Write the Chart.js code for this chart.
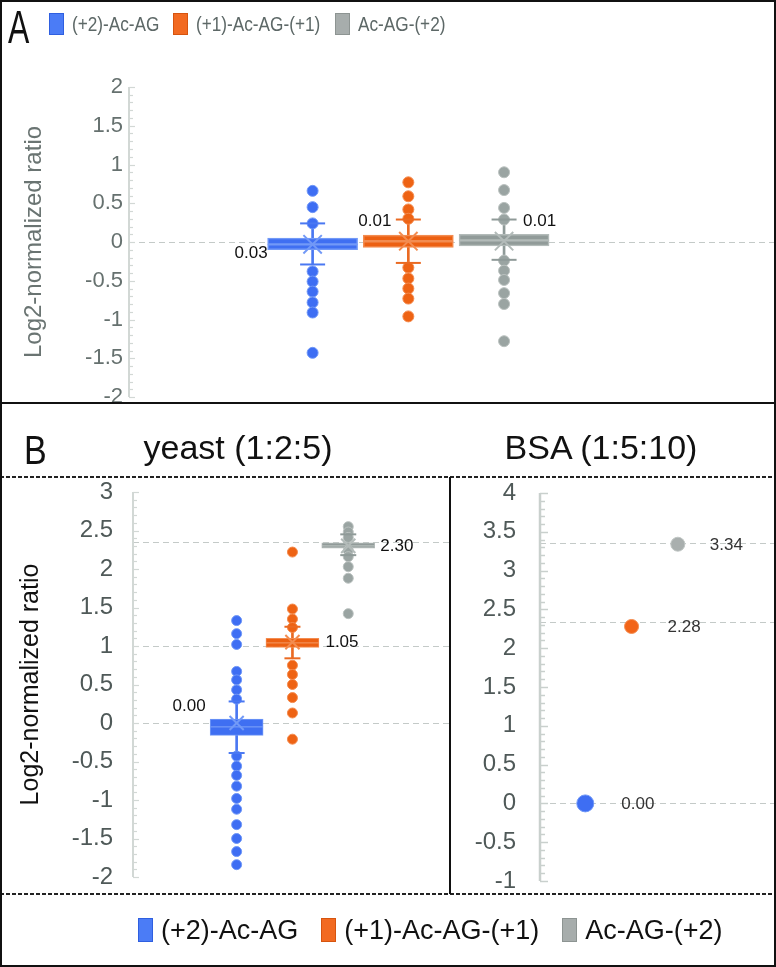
<!DOCTYPE html>
<html><head><meta charset="utf-8">
<script src="https://cdn.jsdelivr.net/npm/chart.js@4.4.1/dist/chart.umd.min.js"></script>
<style>
html,body{margin:0;padding:0;background:#fff;}
#fig{position:relative;width:776px;height:967px;background:#fff;overflow:hidden;font-family:"Liberation Sans",Arial,sans-serif;}
#fig canvas{position:absolute;}
.abs{position:absolute;white-space:nowrap;}
.leg{position:absolute;display:flex;align-items:center;white-space:nowrap;transform-origin:left center;}
.leg .sw{display:inline-block;box-sizing:border-box;border:1.5px solid;}
.hline{position:absolute;left:0;width:776px;}
.dash{height:2px;background:repeating-linear-gradient(90deg,#222 0 4px,transparent 4px 6px);}
</style></head><body>
<div id="fig">
  <canvas id="cA" width="776" height="440" style="left:0;top:0"></canvas>
  <canvas id="cY" width="451" height="470" style="left:0;top:450px"></canvas>
  <canvas id="cB" width="325" height="470" style="left:451px;top:450px"></canvas>

  <div class="abs" style="left:8px;top:4px;font-size:47px;line-height:46px;color:#111;transform:scaleX(0.68);transform-origin:left top;">A</div>
  <div class="abs" style="left:24px;top:431px;font-size:40px;line-height:39px;color:#111;transform:scaleX(0.85);transform-origin:left top;">B</div>
  <div class="abs" style="left:88px;width:300px;text-align:center;top:427px;font-size:34px;line-height:40px;color:#111;">yeast (1:2:5)</div>
  <div class="abs" style="left:451px;width:300px;text-align:center;top:427px;font-size:34px;line-height:40px;color:#111;">BSA (1:5:10)</div>

  <div id="legA" class="leg" style="left:49px;top:13px;height:22px;font-size:20px;color:#5d6867;"></div>
  <div id="legB" class="leg" style="left:138px;top:918px;height:24px;font-size:27px;color:#111;"></div>

  <div class="hline" style="top:402px;height:2px;background:#111;"></div>
  <div class="hline dash" style="top:476px;"></div>
  <div class="hline dash" style="top:893px;"></div>
  <div class="abs" style="left:449px;top:477px;width:2px;height:417px;background:#111;"></div>
  <div class="abs" style="left:0;top:0;width:776px;height:967px;box-sizing:border-box;border:2px solid #111;"></div>
</div>
<script>
// ---------------- DATA ----------------
const seriesNames = ['(+2)-Ac-AG', '(+1)-Ac-AG-(+1)', 'Ac-AG-(+2)'];
const seriesX = [1, 2, 3];

// Panel A (box plots)
const aPointsBlue   = [0.66, 0.45, 0.24, -0.38, -0.51, -0.64, -0.78, -0.91, -1.43];
const aPointsOrange = [0.77, 0.59, 0.42, 0.30, -0.33, -0.47, -0.60, -0.73, -0.96];
const aPointsGray   = [0.90, 0.67, 0.44, 0.29, -0.24, -0.37, -0.49, -0.66, -0.80, -1.28];
const aQ1          = [-0.10, -0.07, -0.05];
const aMedian      = [-0.03, 0.01, 0.02];
const aQ3          = [0.05, 0.09, 0.10];
const aWhiskerLow  = [-0.29, -0.27, -0.23];
const aWhiskerHigh = [0.24, 0.29, 0.29];
const aMean        = [-0.03, 0.01, 0.01];
const aMeanLabels  = ['0.03', '0.01', '0.01'];
const aTicks       = [-2, -1.5, -1, -0.5, 0, 0.5, 1, 1.5, 2];
const aRefLines    = [0];

// Panel B – yeast (1:2:5)
const yPointsBlue   = [1.33, 1.16, 1.02, 0.67, 0.56, 0.43, 0.31, -0.43, -0.56, -0.68, -0.82, -0.98, -1.12, -1.32, -1.50, -1.67, -1.84];
const yPointsOrange = [2.22, 1.48, 1.35, 1.24, 0.75, 0.63, 0.50, 0.33, 0.13, -0.21];
const yPointsGray   = [2.55, 2.48, 2.41, 2.24, 2.16, 2.03, 1.88, 1.42];
const yQ1          = [-0.16, 0.98, 2.27];
const yMedian      = [-0.05, 1.04, 2.30];
const yQ3          = [0.05, 1.10, 2.34];
const yWhiskerLow  = [-0.39, 0.84, 2.18];
const yWhiskerHigh = [0.28, 1.25, 2.45];
const yMean        = [0.00, 1.05, 2.30];
const yMeanLabels  = ['0.00', '1.05', '2.30'];
const yTicks       = [-2, -1.5, -1, -0.5, 0, 0.5, 1, 1.5, 2, 2.5, 3];
const yRefLines    = [0, 1, 2.35];

// Panel B – BSA (1:5:10)
const bsaValues    = [0.00, 2.28, 3.34];
const bsaLabels    = ['0.00', '2.28', '3.34'];
const bsaTicks     = [-1, -0.5, 0, 0.5, 1, 1.5, 2, 2.5, 3, 3.5, 4];
const bsaRefLines  = [0, 2.34, 3.35];

// ---------------- STYLE ----------------
const FONT = "'Liberation Sans', Arial, sans-serif";
Chart.defaults.font.family = FONT;
const PAL = {
  fill:    ['#3f6ff2', '#ec6012', '#919b99'],
  edge:    ['#7299f7', '#f38c50', '#b3bbb9'],
  dot:     ['#3e6ef3', '#ee6314', '#9aa4a2'],
  dotEdge: ['#6f97f7', '#f48b4e', '#bac1bf'],
  whisk:   ['#4a78f2', '#ea6a22', '#8f9a98'],
  legFill: ['#4b7cf6', '#f26a21', '#a7adac'],
  legEdge: ['#2f5fe0', '#d6540f', '#8d9492']
};

// legends (HTML)
function buildLegend(id, boxW, boxH, gapIn, gapOut, sx) {
  const el = document.getElementById(id);
  seriesNames.forEach((n, i) => {
    const sw = document.createElement('span');
    sw.className = 'sw';
    sw.style.width = boxW + 'px'; sw.style.height = boxH + 'px';
    sw.style.background = PAL.legFill[i]; sw.style.borderColor = PAL.legEdge[i];
    const tx = document.createElement('span');
    tx.textContent = n;
    tx.style.display = 'inline-block';
    tx.style.marginLeft = gapIn + 'px';
    tx.style.transform = 'scaleX(' + sx + ')';
    tx.style.transformOrigin = 'left center';
    el.appendChild(sw); el.appendChild(tx);
    const w = tx.offsetWidth;
    tx.style.marginRight = (gapOut - w * (1 - sx)) + 'px';
  });
}
buildLegend('legA', 15, 22, 8, 14, 0.86);
buildLegend('legB', 15, 24, 8, 23, 1);

// ---------------- PLUGINS ----------------
const refLinesPlugin = {
  id: 'refLines',
  beforeDatasetsDraw(chart, args, o) {
    const {ctx, chartArea, scales: {y}} = chart;
    ctx.save();
    ctx.strokeStyle = o.color; ctx.lineWidth = o.width; ctx.setLineDash(o.dash);
    (o.values || []).forEach(v => {
      const py = Math.round(y.getPixelForValue(v)) + 0.5;
      ctx.beginPath(); ctx.moveTo(chartArea.left, py); ctx.lineTo(chart.width, py); ctx.stroke();
    });
    ctx.restore();
  }
};
const axisPlugin = {
  id: 'axisTicks',
  beforeDatasetsDraw(chart, args, o) {
    const {ctx, chartArea, scales: {y}} = chart;
    const x0 = chartArea.left;
    ctx.save();
    ctx.strokeStyle = o.color;
    ctx.lineWidth = o.axisWidth;
    ctx.beginPath(); ctx.moveTo(x0, y.getPixelForValue(y.max)); ctx.lineTo(x0, y.getPixelForValue(y.min)); ctx.stroke();
    ctx.lineWidth = o.tickWidth;
    const n = Math.round((y.max - y.min) / o.step);
    for (let k = 0; k <= n; k++) {
      const v = y.min + k * o.step;
      const major = Math.abs(v / o.majorStep - Math.round(v / o.majorStep)) < 1e-6;
      const py = Math.round(y.getPixelForValue(v)) + 0.5;
      ctx.beginPath(); ctx.moveTo(x0, py); ctx.lineTo(x0 + (major ? o.majorLen : o.minorLen), py); ctx.stroke();
    }
    ctx.restore();
  }
};
const valueLabelPlugin = {
  id: 'valueLabels',
  afterDatasetsDraw(chart, args, o) {
    const {ctx, scales: {x, y}} = chart;
    ctx.save();
    ctx.font = o.font; ctx.fillStyle = o.color; ctx.textBaseline = 'middle';
    o.items.forEach(it => {
      ctx.textAlign = it.align;
      ctx.fillText(it.text, x.getPixelForValue(it.x) + it.dx, y.getPixelForValue(it.y) + it.dy);
    });
    ctx.restore();
  }
};

function yScale(c) {
  return {
    type: 'linear', min: c.yMin, max: c.yMax, stacked: false,
    afterFit: s => { s.width = c.axisW; },
    afterBuildTicks: s => { s.ticks = c.ticks.map(v => ({value: v})); },
    grid: {display: false, drawTicks: false, tickLength: 0}, border: {display: false},
    ticks: {color: c.tickColor, font: {size: c.tickSize}, padding: c.tickPad, autoSkip: false, callback: v => String(v)},
    title: c.title ? {display: true, text: c.title, color: c.titleColor, font: {size: c.titleSize}, padding: {top: c.titlePad, bottom: 0}} : {display: false}
  };
}

function boxChart(id, c) {
  const datasets = [];
  datasets.push({
    type: 'bar', label: 'whisker', stack: 's', order: 6,
    data: seriesX.map((x, i) => ({x, y: [c.wLo[i], c.wHi[i]]})),
    backgroundColor: PAL.whisk, barThickness: c.whiskW, borderWidth: 0
  });
  datasets.push({
    type: 'bar', label: 'box lower', stack: 's', order: 5,
    data: seriesX.map((x, i) => ({x, y: [c.q1[i], c.med[i]]})),
    backgroundColor: PAL.fill, borderColor: PAL.edge, borderWidth: c.boxBorder, borderSkipped: false, barThickness: c.boxW
  });
  datasets.push({
    type: 'bar', label: 'box upper', stack: 's', order: 5,
    data: seriesX.map((x, i) => ({x, y: [c.med[i], c.q3[i]]})),
    backgroundColor: PAL.fill, borderColor: PAL.edge, borderWidth: c.boxBorder, borderSkipped: false, barThickness: c.boxW
  });
  c.points.forEach((pts, i) => {
    datasets.push({
      type: 'scatter', label: seriesNames[i], order: 4,
      data: pts.map(v => ({x: seriesX[i], y: v})),
      pointRadius: c.pointR, backgroundColor: PAL.dot[i], borderColor: PAL.dotEdge[i], borderWidth: 1
    });
  });
  const capData = [], capCol = [];
  seriesX.forEach((x, i) => {
    capData.push({x, y: c.wLo[i]}, {x, y: c.wHi[i]});
    capCol.push(PAL.whisk[i], PAL.whisk[i]);
  });
  datasets.push({
    type: 'scatter', label: 'caps', order: 3, data: capData,
    pointStyle: 'line', pointRadius: c.capR, borderColor: capCol, borderWidth: 2
  });
  datasets.push({
    type: 'scatter', label: 'mean', order: 2,
    data: seriesX.map((x, i) => ({x, y: c.mean[i]})),
    pointStyle: 'crossRot', pointRadius: c.meanR, borderColor: PAL.edge, borderWidth: 2
  });
  return new Chart(document.getElementById(id), {
    type: 'bar',
    data: {datasets},
    options: {
      responsive: false, animation: false, events: [],
      layout: {padding: {top: c.padTop, bottom: c.padBottom, left: 0, right: 0}},
      plugins: {
        legend: {display: false}, tooltip: {enabled: false},
        refLines: {values: c.refLines, color: '#c4cac8', width: 1.2, dash: [6, 4]},
        axisTicks: {color: c.axisColor, axisWidth: c.axisLW, tickWidth: 1.2, step: 0.1, majorStep: 0.5, majorLen: c.majorLen, minorLen: c.minorLen},
        valueLabels: {font: c.labelFont, color: '#111', items: c.labels}
      },
      scales: {
        x: {type: 'linear', display: false, min: c.xMin, max: c.xMax, offset: false},
        y: yScale(c)
      }
    },
    plugins: [refLinesPlugin, axisPlugin, valueLabelPlugin]
  });
}

// Panel A
boxChart('cA', {
  points: [aPointsBlue, aPointsOrange, aPointsGray],
  q1: aQ1, med: aMedian, q3: aQ3, wLo: aWhiskerLow, wHi: aWhiskerHigh, mean: aMean,
  yMin: -2, yMax: 2, ticks: aTicks, refLines: aRefLines,
  xMin: -0.918, xMax: 5.684, axisW: 129, padTop: 87, padBottom: 43,
  tickColor: '#66716f', tickSize: 22, tickPad: 6,
  title: 'Log2-normalized ratio', titleColor: '#6a7472', titleSize: 24, titlePad: 20,
  boxW: 90, whiskW: 2, boxBorder: 1.5, pointR: 5.5, capR: 12.5, meanR: 13,
  axisColor: '#d2d8d5', axisLW: 2, majorLen: 6, minorLen: 4,
  labelFont: "17px " + FONT,
  labels: [
    {x: 1, y: aMean[0], text: aMeanLabels[0], dx: -45, dy: 9, align: 'right'},
    {x: 2, y: aMean[1], text: aMeanLabels[1], dx: -17, dy: -20, align: 'right'},
    {x: 3, y: aMean[2], text: aMeanLabels[2], dx: 19, dy: -20, align: 'left'}
  ]
});

// Panel B yeast  (plot area: y 492 .. 877 on the page)
boxChart('cY', {
  points: [yPointsBlue, yPointsOrange, yPointsGray],
  q1: yQ1, med: yMedian, q3: yQ3, wLo: yWhiskerLow, wHi: yWhiskerHigh, mean: yMean,
  yMin: -2, yMax: 3, ticks: yTicks, refLines: yRefLines,
  xMin: -0.857, xMax: 4.626, axisW: 133, padTop: 42, padBottom: 43,
  tickColor: '#4f5958', tickSize: 24, tickPad: 20,
  title: 'Log2-normalized ratio', titleColor: '#111', titleSize: 25, titlePad: 16,
  boxW: 53, whiskW: 2, boxBorder: 1, pointR: 5, capR: 8, meanR: 10,
  axisColor: '#d2d8d5', axisLW: 2, majorLen: 6, minorLen: 4,
  labelFont: "17px " + FONT,
  labels: [
    {x: 1, y: yMean[0], text: yMeanLabels[0], dx: -31, dy: -17, align: 'right'},
    {x: 2, y: yMean[1], text: yMeanLabels[1], dx: 33, dy: 0, align: 'left'},
    {x: 3, y: yMean[2], text: yMeanLabels[2], dx: 32, dy: 0, align: 'left'}
  ]
});

// Panel B BSA  (plot area: y 493 .. 881 on the page)
new Chart(document.getElementById('cB'), {
  type: 'scatter',
  data: {
    datasets: seriesNames.map((n, i) => ({
      label: n,
      data: [{x: seriesX[i], y: bsaValues[i]}],
      pointRadius: i === 0 ? 8.5 : 7,
      backgroundColor: ['#3e6ef3', '#f26418', '#a9afae'][i],
      borderColor: ['#6f97f7', '#f48b4e', '#c0c6c4'][i],
      borderWidth: 1
    }))
  },
  options: {
    responsive: false, animation: false, events: [],
    layout: {padding: {top: 43, bottom: 39, left: 0, right: 0}},
    plugins: {
      legend: {display: false}, tooltip: {enabled: false},
      refLines: {values: bsaRefLines, color: '#c4cac8', width: 1.2, dash: [6, 4]},
      axisTicks: {color: '#c9d0cd', axisWidth: 2.5, tickWidth: 1.5, step: 0.1, majorStep: 0.5, majorLen: 8, minorLen: 5},
      valueLabels: {font: "17px " + FONT, color: '#333', items: [
        {x: 1, y: bsaValues[0], text: bsaLabels[0], dx: 36, dy: 1, align: 'left'},
        {x: 2, y: bsaValues[1], text: bsaLabels[1], dx: 36, dy: 1, align: 'left'},
        {x: 3, y: bsaValues[2], text: bsaLabels[2], dx: 32, dy: 1, align: 'left'}
      ]}
    },
    scales: {
      x: {type: 'linear', display: false, min: 0.021, max: 4.917},
      y: yScale({yMin: -1, yMax: 4, ticks: bsaTicks, axisW: 89, tickColor: '#4f5958', tickSize: 24, tickPad: 24})
    }
  },
  plugins: [refLinesPlugin, axisPlugin, valueLabelPlugin]
});
</script>
</body></html>
